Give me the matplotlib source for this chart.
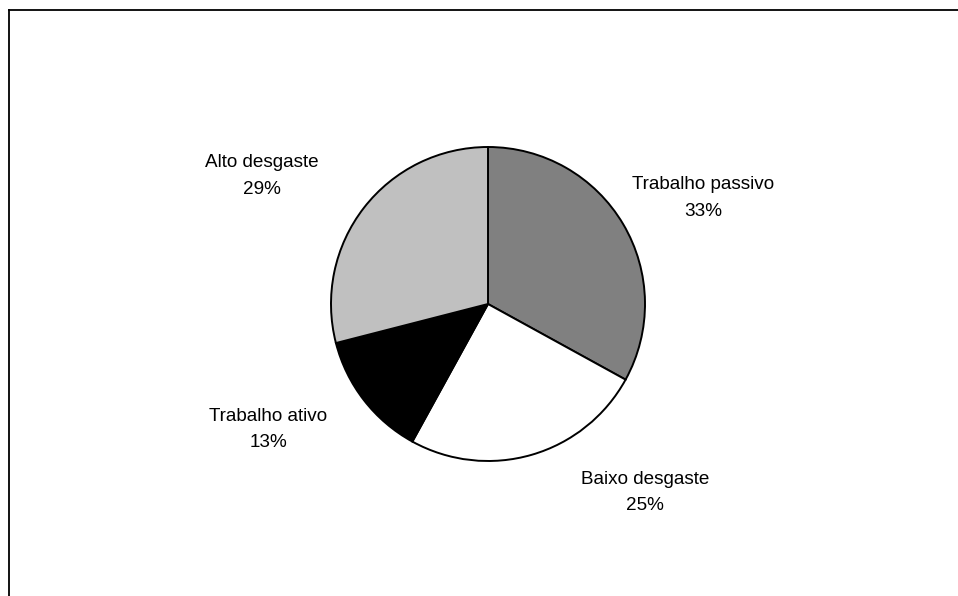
import matplotlib
matplotlib.use("Agg")
import matplotlib.pyplot as plt
from matplotlib import font_manager
from matplotlib.lines import Line2D

names = {f.name for f in font_manager.fontManager.ttflist}
narrow = 'Liberation Sans Narrow' in names
print('narrow available:', narrow)
plt.rcParams['font.family'] = ['Liberation Sans Narrow' if narrow else 'Liberation Sans', 'DejaVu Sans']

# data
labels = ['Trabalho passivo', 'Baixo desgaste', 'Trabalho ativo', 'Alto desgaste']
values = [33, 25, 13, 29]
colors = ['#808080', '#ffffff', '#000000', '#c0c0c0']
# label positions relative to pie radius
label_pos = [(1.37, 0.675), (1.0, -1.2), (-1.40, -0.80), (-1.44, 0.815)]

W, H = 958, 596
cx, cy, r = 488, 304, 157

fig = plt.figure(figsize=(W / 100, H / 100), dpi=100)
ax = fig.add_axes([0, 0, 1, 1])

ax.pie(values, colors=colors, startangle=90, counterclock=False, radius=1,
       wedgeprops=dict(edgecolor='black', linewidth=1.4))

for lab, v, (x, y) in zip(labels, values, label_pos):
    ax.text(x, y, f'{lab}\n{v}%', ha='center', va='center',
            fontsize=16.5 if narrow else 13.6, linespacing=1.3 if narrow else 1.7)

ax.set_aspect('auto')
ax.set_xlim(-cx / r, (W - cx) / r)
ax.set_ylim(-(H - cy) / r, cy / r)
ax.axis('off')

# outer frame (only top and left edges visible)
fx = 8.5 / W
fy = 1 - 10 / H
fig.add_artist(Line2D([fx, 1], [fy, fy], color='black', lw=1.3, transform=fig.transFigure))
fig.add_artist(Line2D([fx, fx], [0, fy], color='black', lw=1.3, transform=fig.transFigure))

fig.savefig('out.png', dpi=100)
